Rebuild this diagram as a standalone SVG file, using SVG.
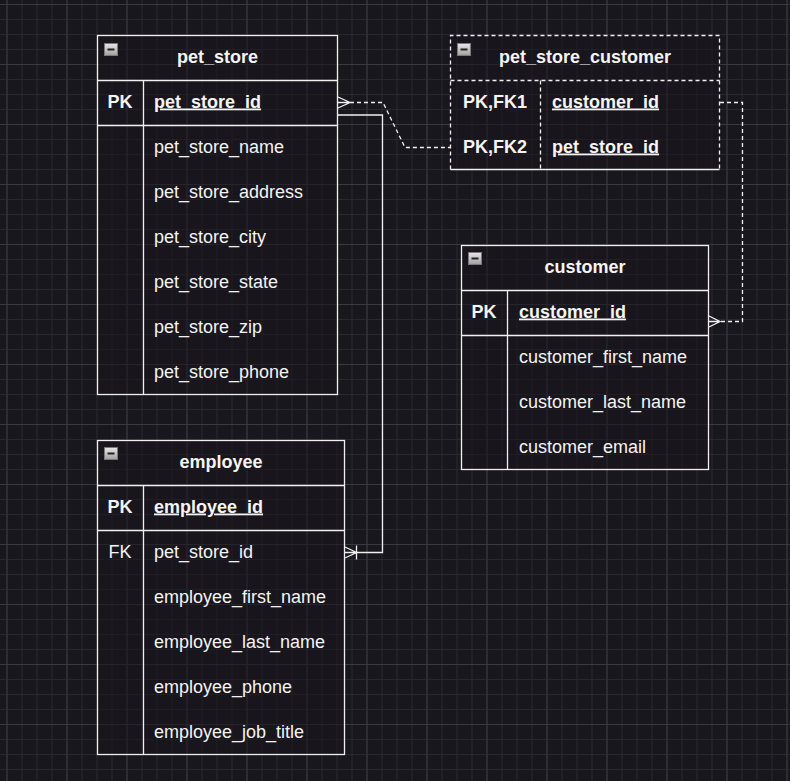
<svg xmlns="http://www.w3.org/2000/svg" width="790" height="781" viewBox="0 0 790 781">
  <defs>
    <pattern id="minorGrid" x="6.5" y="4" width="15" height="15" patternUnits="userSpaceOnUse">
      <path d="M0 0.5H15M0.5 0V15" fill="none" stroke="#2a2830" stroke-width="1"/>
    </pattern>
    <pattern id="majorGrid" x="6.5" y="4" width="60" height="60" patternUnits="userSpaceOnUse">
      <path d="M0 0.5H60M0.5 0V60" fill="none" stroke="#3b3940" stroke-width="1"/>
    </pattern>
    <linearGradient id="btnGrad" x1="0" y1="0" x2="0" y2="1">
      <stop offset="0" stop-color="#e8e8e8"/>
      <stop offset="1" stop-color="#a0a0a0"/>
    </linearGradient>
    <g id="collapse">
      <rect x="0.5" y="0.5" width="13" height="12" fill="url(#btnGrad)" stroke="#7a7a7a"/>
      <path d="M3.5 6.5H10.5" stroke="#222" stroke-width="2"/>
    </g>
  </defs>
  <style>
    .frame { fill: #17151c; fill-opacity: 0.55; stroke: #f0f0f0; stroke-width: 1.3; }
    .line { fill: none; stroke: #f0f0f0; stroke-width: 1.3; }
    .dash { stroke-dasharray: 4 3; }
    text { font-family: "Liberation Sans", Arial, sans-serif; font-size: 18px; fill: #f4f4f4; }
    .title { font-weight: bold; text-anchor: middle; }
    .key { font-weight: bold; text-anchor: middle; }
    .fk { text-anchor: middle; }
    .pkf { font-weight: bold; text-decoration: underline; }
    .conn { fill: none; stroke: #f0f0f0; stroke-width: 1.3; }
  </style>

  <!-- canvas background with grid -->
  <rect width="790" height="781" fill="#19171e"/>
  <rect width="790" height="781" fill="url(#minorGrid)"/>
  <rect width="790" height="781" fill="url(#majorGrid)"/>

  <!-- pet_store -->
  <g id="pet_store">
    <rect class="frame" x="97.5" y="35.5" width="240" height="359"/>
    <path class="line" d="M97.5 80.5H337.5M97.5 125.5H337.5M143.5 80.5V394.5"/>
    <use href="#collapse" x="104" y="43"/>
    <text class="title" x="217.5" y="62.5">pet_store</text>
    <text class="key" x="120" y="107.5">PK</text>
    <text class="pkf" x="154" y="107.5">pet_store_id</text>
    <text x="154" y="152.5">pet_store_name</text>
    <text x="154" y="197.5">pet_store_address</text>
    <text x="154" y="242.5">pet_store_city</text>
    <text x="154" y="287.5">pet_store_state</text>
    <text x="154" y="332.5">pet_store_zip</text>
    <text x="154" y="377.5">pet_store_phone</text>
  </g>

  <!-- pet_store_customer (associative table) -->
  <g id="pet_store_customer">
    <rect x="450.5" y="35.5" width="269" height="134" fill="#17151c" fill-opacity="0.55"/>
    <path class="line dash" d="M450.5 169.5V35.5H719.5V169.5M450.5 80.5H719.5M540.5 80.5V169.5"/>
    <path class="line" d="M450.5 169.5H719.5"/>
    <use href="#collapse" x="457" y="43"/>
    <text class="title" x="585" y="62.5">pet_store_customer</text>
    <text class="key" x="495" y="107.5">PK,FK1</text>
    <text class="pkf" x="552" y="107.5">customer_id</text>
    <text class="key" x="495" y="152.5">PK,FK2</text>
    <text class="pkf" x="552" y="152.5">pet_store_id</text>
  </g>

  <!-- customer -->
  <g id="customer">
    <rect class="frame" x="461.5" y="245.5" width="247" height="224"/>
    <path class="line" d="M461.5 290.5H708.5M461.5 335.5H708.5M507.5 290.5V469.5"/>
    <use href="#collapse" x="468" y="252"/>
    <text class="title" x="585" y="272.5">customer</text>
    <text class="key" x="484" y="317.5">PK</text>
    <text class="pkf" x="519" y="317.5">customer_id</text>
    <text x="519" y="362.5">customer_first_name</text>
    <text x="519" y="407.5">customer_last_name</text>
    <text x="519" y="452.5">customer_email</text>
  </g>

  <!-- employee -->
  <g id="employee">
    <rect class="frame" x="97.5" y="440.5" width="247" height="314"/>
    <path class="line" d="M97.5 485.5H344.5M97.5 530.5H344.5M143.5 485.5V754.5"/>
    <use href="#collapse" x="104" y="447"/>
    <text class="title" x="221" y="467.5">employee</text>
    <text class="key" x="120" y="512.5">PK</text>
    <text class="pkf" x="154" y="512.5">employee_id</text>
    <text class="fk" x="120" y="557.5">FK</text>
    <text x="154" y="557.5">pet_store_id</text>
    <text x="154" y="602.5">employee_first_name</text>
    <text x="154" y="647.5">employee_last_name</text>
    <text x="154" y="692.5">employee_phone</text>
    <text x="154" y="737.5">employee_job_title</text>
  </g>

  <!-- relationships -->
  <g id="connectors">
    <!-- pet_store.pet_store_id to pet_store_customer.pet_store_id -->
    <path class="conn dash" d="M350 102.5H383L405 147.5H450"/>
    <path class="conn" d="M338 102.5H350M338 97L350 102.5L338 108"/>
    <!-- pet_store_customer.customer_id to customer.customer_id -->
    <path class="conn dash" d="M720 102.5H742.5V321.5H720"/>
    <path class="conn" d="M709 321.5H720M709 316L720 321.5L709 327"/>
    <!-- pet_store to employee.pet_store_id -->
    <path class="conn" d="M338 115H382.5V552.5H356.5"/>
    <path class="conn" d="M345 552.5H356.5M345 547L356.5 552.5L345 558M356.5 545.5V559.5"/>
  </g>
</svg>
